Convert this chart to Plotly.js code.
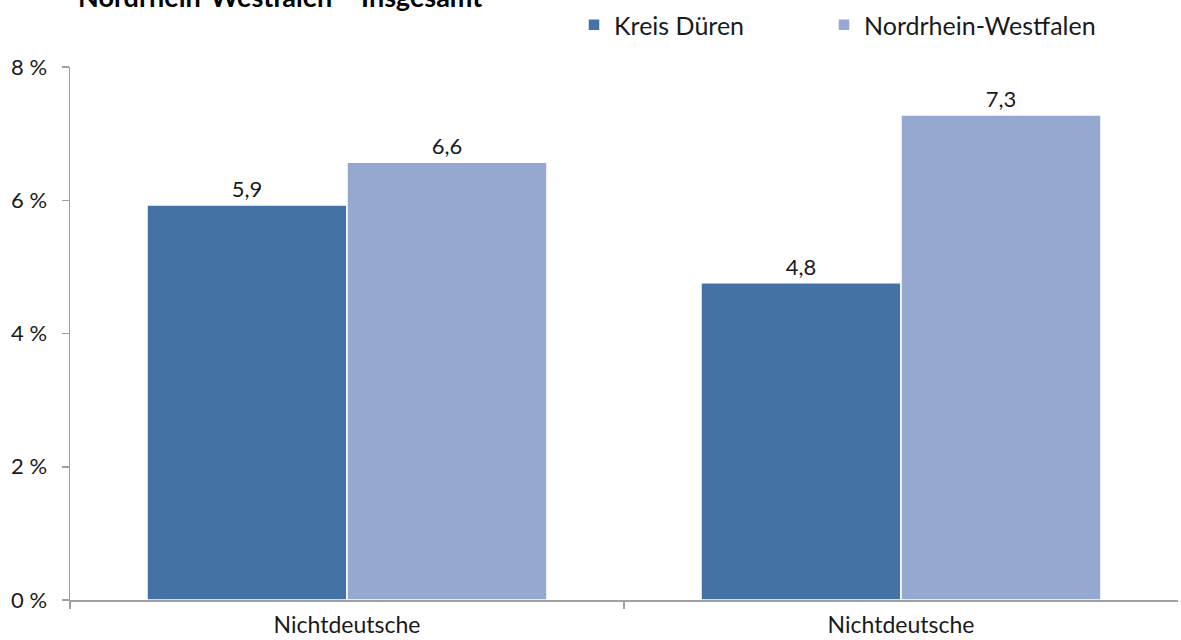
<!DOCTYPE html>
<html>
<head>
<meta charset="utf-8">
<script src="https://cdn.plot.ly/plotly-3.0.1.min.js"></script>
<style>html,body{margin:0;padding:0;background:#fff;}#chart{width:1181px;height:640px;}</style>
</head>
<body>
<div id="chart"></div>
<script>
const categories = ["Nichtdeutsche", "Nichtdeutsche"];
const seriesNames = ["Kreis Düren", "Nordrhein-Westfalen"];
const kreisDueren = [5.93, 4.76];
const nrw = [6.57, 7.28];
const yTickVals = [0, 2, 4, 6, 8];
const yTickText = ["0 %", "2 %", "4 %", "6 %", "8 %"];
const titleText = "Nordrhein-Westfalen – Insgesamt";

const xPos = categories.map((c, i) => i);
const FONT = "Lato, 'Open Sans', sans-serif";

function barTrace(name, vals, color, legendId) {
  return {
    type: "bar",
    name: name,
    legend: legendId,
    x: xPos,
    y: vals,
    marker: {color: color, line: {color: "#ffffff", width: 1.5}},
    texttemplate: "%{y:.1f}",
    textposition: "outside",
    cliponaxis: false,
    textfont: {family: FONT, size: 22, color: "#1a1a1a"},
    hoverinfo: "skip"
  };
}

const data = [
  barTrace(seriesNames[0], kreisDueren, "#4472A5", "legend"),
  barTrace(seriesNames[1], nrw, "#95A9D0", "legend2")
];

function legendAt(px) {
  return {
    orientation: "h",
    xref: "container", yref: "container",
    x: px / 1181, xanchor: "left",
    y: 1 - 25 / 640, yanchor: "middle",
    font: {family: FONT, size: 25, color: "#1a1a1a"},
    itemwidth: 30,
    bgcolor: "rgba(0,0,0,0)"
  };
}

const layout = {
  width: 1181,
  height: 640,
  margin: {l: 70, r: 3, t: 67, b: 40},
  paper_bgcolor: "#ffffff",
  plot_bgcolor: "#ffffff",
  separators: ",.",
  barmode: "group",
  bargap: 0.278,
  bargroupgap: 0,
  font: {family: FONT, size: 22, color: "#1a1a1a"},
  annotations: [{
    text: "<b>" + titleText + "</b>",
    font: {family: FONT, size: 27, color: "#000000"},
    xref: "paper", yref: "paper",
    x: (76 - 70) / 1108, xanchor: "left",
    y: 1 + (67 - 15) / 533, yanchor: "bottom",
    showarrow: false
  }],
  showlegend: true,
  legend: legendAt(574),
  legend2: legendAt(824),
  xaxis: {
    range: [-0.5, 1.5],
    tickvals: xPos,
    ticktext: categories,
    ticks: "",
    ticklabelstandoff: 4,
    showgrid: false,
    zeroline: false,
    showline: true,
    linecolor: "#a0a0a0",
    linewidth: 1.5,
    tickfont: {family: FONT, size: 23, color: "#1a1a1a"},
    minor: {tickvals: [-0.5, 0.5], ticks: "outside", ticklen: 7, tickcolor: "#a0a0a0", tickwidth: 1.5, showgrid: false},
    fixedrange: true
  },
  yaxis: {
    range: [0, 8],
    tickvals: yTickVals,
    ticktext: yTickText,
    ticks: "outside",
    ticklen: 7,
    ticklabelstandoff: 10,
    tickcolor: "#a0a0a0",
    tickwidth: 1.5,
    showgrid: false,
    zeroline: false,
    showline: true,
    linecolor: "#a0a0a0",
    linewidth: 1.5,
    tickfont: {family: FONT, size: 22, color: "#1a1a1a"},
    fixedrange: true
  }
};

Plotly.newPlot("chart", data, layout, {displayModeBar: false, staticPlot: true});
</script>
</body>
</html>
